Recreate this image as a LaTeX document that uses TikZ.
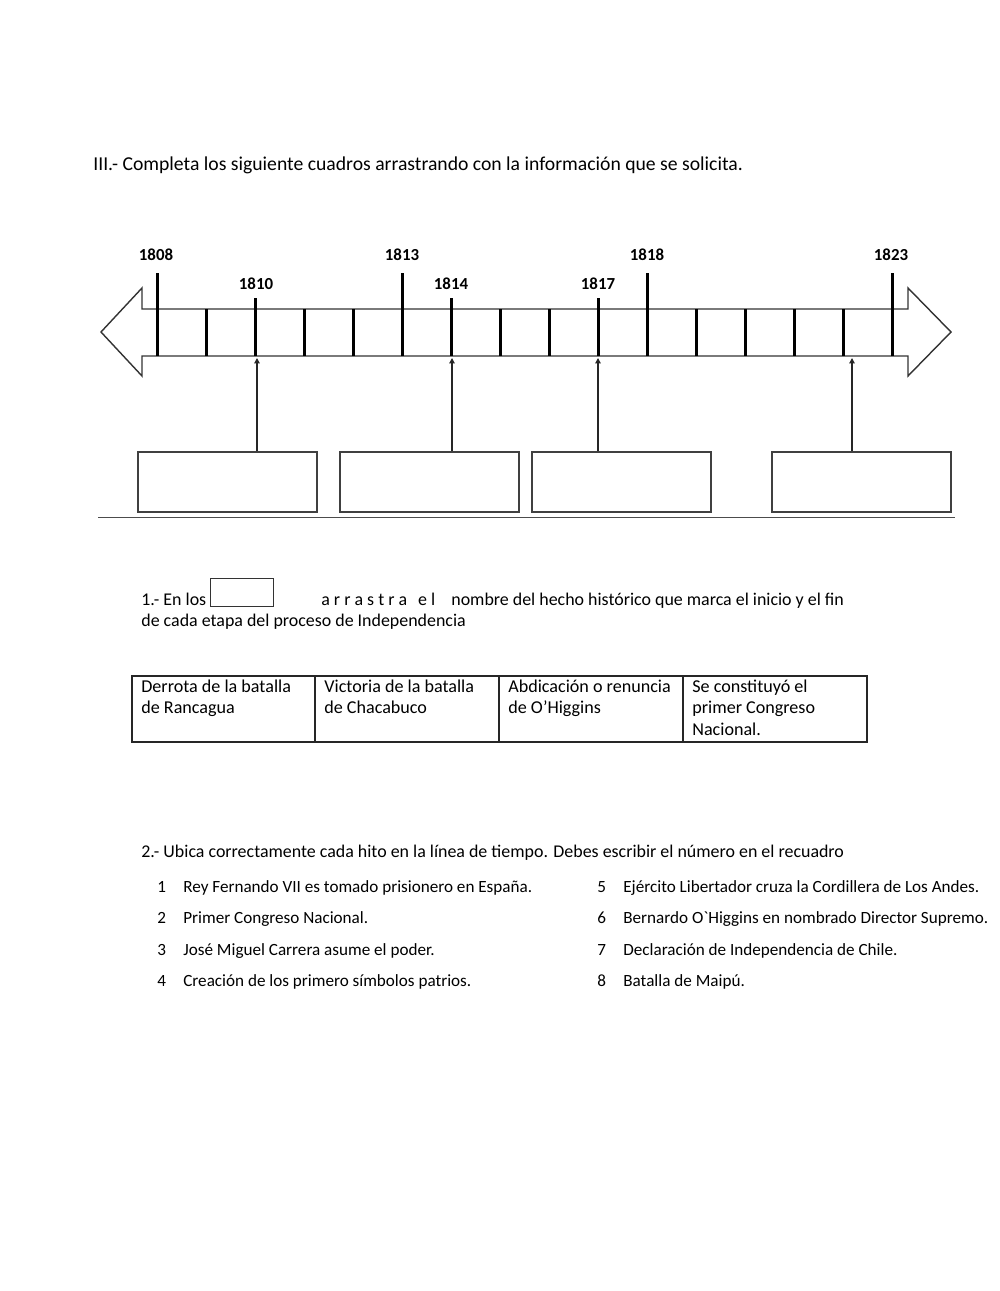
\documentclass[tikz,border=0pt]{standalone}
\usepackage{fontspec}
\setmainfont{Carlito}
\usetikzlibrary{arrows.meta}

\begin{document}
\begin{tikzpicture}[x=0.02cm,y=-0.02cm,
	font=\fontsize{10.2}{12.2}\selectfont,
	txt/.style={anchor=base west,inner sep=0pt},
	item/.style={anchor=base west,inner sep=0pt,font=\fontsize{9.75}{12}\selectfont},
	cell/.style={anchor=north west,inner sep=0pt,align=left,font=\fontsize{10.3}{12.2}\selectfont},
	yr/.style={font=\fontsize{9.6}{10}\selectfont\bfseries,inner sep=0pt},
	dropbox/.style={draw=black!75,line width=1pt,minimum width=3.58cm,minimum height=1.2cm,inner sep=0pt,anchor=north west},
	uparrow/.style={-{Triangle[length=3pt,width=3pt]},line width=0.7pt,black!85}]
	
	\useasboundingbox (0,0) rectangle (1000,1291);
	
	% Title
	\node[txt,font=\fontsize{11.2}{13}\selectfont] (title) at (93,170) {III.- Completa los siguiente cuadros arrastrando con la información que se solicita.};
	
	% Timeline band with arrow ends
	\draw[line width=0.8pt,black!80] (142,309) -- (142,288) -- (101,332) -- (142,376) -- (142,356)
	-- (908,356) -- (908,376) -- (951,332) -- (908,288) -- (908,309) -- cycle;
	
	% Ticks
	\foreach \i in {0,...,15}
	\draw[line width=1.5pt] ({157.7+49*\i},309) -- ({157.7+49*\i},356);
	\foreach \i in {0,5,10,15}
	\draw[line width=1.5pt] ({157.7+49*\i},273) -- ({157.7+49*\i},309);
	\foreach \i in {2,6,9}
	\draw[line width=1.5pt] ({157.7+49*\i},298) -- ({157.7+49*\i},309);
	
	% Years
	\node[yr] (y1808) at (156,255) {1808};
	\node[yr] (y1813) at (402,255) {1813};
	\node[yr] (y1818) at (647,255) {1818};
	\node[yr] (y1823) at (891,255) {1823};
	\node[yr] (y1810) at (256,284) {1810};
	\node[yr] (y1814) at (451,284) {1814};
	\node[yr] (y1817) at (598,284) {1817};
	
	% Boxes under the line
	\node[dropbox] (boxA) at (137,451) {};
	\node[dropbox] (boxB) at (339,451) {};
	\node[dropbox] (boxC) at (531,451) {};
	\node[dropbox] (boxD) at (771,451) {};
	
	\coordinate (tipA) at (257,358);
	\coordinate (tipB) at (452,358);
	\coordinate (tipC) at (598,358);
	\coordinate (tipD) at (852,358);
	
	\draw[uparrow] (boxA.north -| tipA) -- (tipA);
	\draw[uparrow] (boxB.north -| tipB) -- (tipB);
	\draw[uparrow] (boxC.north -| tipC) -- (tipC);
	\draw[uparrow] (boxD.north -| tipD) -- (tipD);
	
	\draw[line width=0.8pt,black!70] (98,517.5) -- (955,517.5);
	
	% Part 1
	\node[txt] (p1a) at (141,605) {1.- En los};
	\node[draw=black!80,line width=0.8pt,minimum width=1.26cm,minimum height=0.56cm,inner sep=0pt,anchor=north west] (smallbox) at (210,578) {};
	\node[txt] (p1b) at (321,605) {a r r a s t r a\hspace{0.22cm}e l};
	\node[txt] (p1c) at (451,605) {nombre del hecho histórico que marca el inicio y el fin};
	\node[txt] (p1d) at (141,626) {de cada etapa del proceso de Independencia};
	
	% Table of answers
	\draw[line width=0.8pt,black!85] (132,676) rectangle (867,742);
	\draw[line width=0.8pt,black!85] (315,676) -- (315,742);
	\draw[line width=0.8pt,black!85] (499,676) -- (499,742);
	\draw[line width=0.8pt,black!85] (683,676) -- (683,742);
	
	\node[cell] (cellA) at (141,679.5) {Derrota de la batalla\\de Rancagua};
	\node[cell] (cellB) at (324,679.5) {Victoria de la batalla\\de Chacabuco};
	\node[cell] (cellC) at (508,679.5) {Abdicación o renuncia\\de O’Higgins};
	\node[cell] (cellD) at (692,679.5) {Se constituyó el\\primer Congreso\\Nacional.};
	
	% Part 2
	\node[txt] (p2) at (141,857) {2.- Ubica correctamente cada hito en la línea de tiempo. Debes escribir el número en el recuadro};
	
	\foreach \n/\y/\t in {1/892/{Rey Fernando VII es tomado prisionero en España.},
		2/923/{Primer Congreso Nacional.},
		3/955/{José Miguel Carrera asume el poder.},
		4/986/{Creación de los primero símbolos patrios.}}{
		\node[item] (num\n) at (157,\y) {\n};
		\node[item] (hito\n) at (183,\y) {\t};
	}
	\foreach \n/\y/\t in {5/892/{Ejército Libertador cruza la Cordillera de Los Andes.},
		6/923/{Bernardo O\textasciigrave Higgins en nombrado Director Supremo.},
		7/955/{Declaración de Independencia de Chile.},
		8/986/{Batalla de Maipú.}}{
		\node[item] (num\n) at (597,\y) {\n};
		\node[item] (hito\n) at (623,\y) {\t};
	}
	
\end{tikzpicture}
\end{document}
